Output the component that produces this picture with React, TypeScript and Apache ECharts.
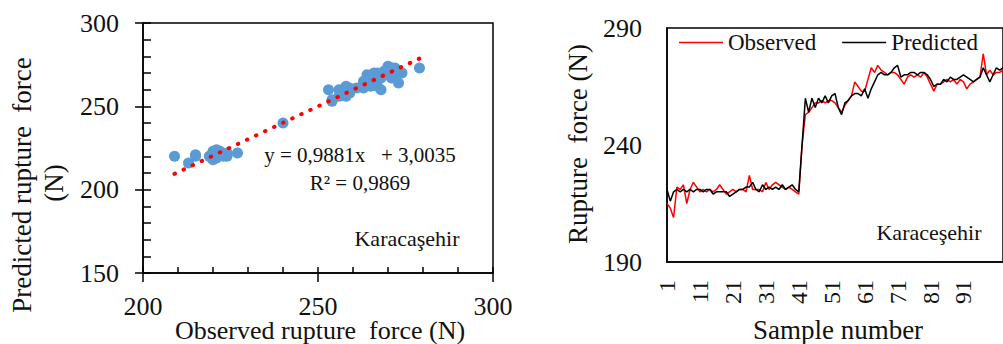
import { useEffect, useRef } from "react";
import * as echarts from "echarts";

// ---- Data ----
const sampleNumbers: string[] = Array.from({ length: 103 }, (_, i) => String(i + 1));

const observed: number[] = [
  215, 213, 209, 222, 221, 223, 215, 221, 224, 222,
  220, 221, 220, 221, 220, 221, 223, 221, 219, 220,
  221, 220, 221, 221, 220, 227, 221, 221, 221, 220,
  224, 221, 223, 224, 223, 222, 221, 222, 221, 220,
  219, 240, 253, 254, 256, 258, 258, 259, 258, 259,
  259, 258, 256, 254, 257, 259, 261, 267, 265, 263,
  263, 268, 273, 271, 274, 272, 271, 270, 271, 271,
  270, 268, 266, 269, 270, 269, 270, 269, 271, 269,
  266, 263, 266, 266, 267, 268, 267, 268, 266, 268,
  267, 264, 266, 267, 268, 269, 279, 270, 272, 270,
  271, 271, 272,
];

const predicted: number[] = [
  221, 216, 220, 221, 220, 221, 220, 221, 220, 221,
  221, 220, 221, 221, 219, 220, 220, 220, 220, 218,
  219, 220, 221, 221, 222, 222, 224, 221, 220, 223,
  221, 222, 221, 222, 221, 223, 221, 222, 223, 221,
  220, 240, 260, 254, 260, 256, 260, 258, 261, 258,
  261, 262, 256, 253, 258, 259, 261, 262, 262, 261,
  264, 260, 264, 267, 270, 271, 270, 270, 271, 273,
  274, 269, 270, 270, 271, 271, 270, 271, 271, 270,
  268, 265, 266, 266, 268, 267, 269, 268, 268, 269,
  270, 269, 268, 267, 268, 269, 273, 270, 267, 270,
  273, 272, 273,
];

const trendSlope = 0.9881;
const trendIntercept = 3.0035;
const equationText = "y = 0,9881x   + 3,0035";
const r2Text = "R² = 0,9869";
const siteLeft = "Karacaşehir";
const siteRight = "Karaceşehir";

const leftXTicks = { min: 200, max: 300, minor: 10, major: 50 };
const leftYTicks = { min: 150, max: 300, minor: 10, major: 50 };
const rightYTicks = { min: 190, max: 290, minor: 10, major: 50 };
const lastLabelledSample = 91;

const FONT = "Liberation Serif";
const INK = "#111";

export default function App() {
  const ref = useRef<HTMLDivElement>(null);

  useEffect(() => {
    if (!ref.current) return;
    const chart = echarts.init(ref.current, undefined, { renderer: "svg" });

    const scatterData = observed.map((o, i) => [o, predicted[i]]);
    const xMin = Math.min(...observed);
    const xMax = Math.max(...observed);
    const trendData = [
      [xMin, trendSlope * xMin + trendIntercept],
      [xMax, trendSlope * xMax + trendIntercept],
    ];

    const axisLine = { show: true, onZero: false, lineStyle: { color: "#000", width: 1.5 } };
    const tickLine = { color: "#000", width: 1.5 };
    const labelStyle = { fontFamily: FONT, fontSize: 26, color: INK };

    const text = (t: string, x: number, y: number, size: number, rotation = 0) => ({
      type: "text",
      x,
      y,
      rotation,
      silent: true,
      style: {
        text: t,
        fill: INK,
        font: `${size}px "${FONT}"`,
        textAlign: "center",
        textVerticalAlign: "middle",
        align: "center",
        verticalAlign: "middle",
      },
    });

    chart.setOption({
      animation: false,
      backgroundColor: "#fff",
      textStyle: { fontFamily: FONT },
      grid: [
        { left: 143, top: 23, width: 350, height: 250, show: true, borderColor: "#000", borderWidth: 1.5 },
        { left: 667, top: 28, width: 338, height: 234, show: true, borderColor: "#000", borderWidth: 1.5 },
      ],
      xAxis: [
        {
          gridIndex: 0, type: "value", position: "bottom",
          min: leftXTicks.min, max: leftXTicks.max, interval: leftXTicks.minor,
          axisLine, axisTick: { inside: true, length: 6, lineStyle: tickLine },
          axisLabel: { show: false }, splitLine: { show: false },
        },
        {
          gridIndex: 0, type: "value", position: "bottom",
          min: leftXTicks.min, max: leftXTicks.max, interval: leftXTicks.major,
          axisLine: { show: false }, axisTick: { inside: false, length: 9, lineStyle: tickLine },
          axisLabel: { ...labelStyle, margin: 20 }, splitLine: { show: false },
        },
        {
          gridIndex: 1, type: "category", data: sampleNumbers, boundaryGap: false,
          axisLine, axisTick: { show: false },
          axisLabel: {
            interval: (idx: number) => idx % 10 === 0 && idx < lastLabelledSample,
            rotate: 90, margin: 18, fontFamily: FONT, fontSize: 24, color: INK,
          },
          splitLine: { show: false },
        },
      ],
      yAxis: [
        {
          gridIndex: 0, type: "value", position: "left",
          min: leftYTicks.min, max: leftYTicks.max, interval: leftYTicks.minor,
          axisLine, axisTick: { inside: true, length: 8, lineStyle: tickLine },
          axisLabel: { show: false }, splitLine: { show: false },
        },
        {
          gridIndex: 0, type: "value", position: "left",
          min: leftYTicks.min, max: leftYTicks.max, interval: leftYTicks.major,
          axisLine: { show: false }, axisTick: { inside: false, length: 8, lineStyle: tickLine },
          axisLabel: { ...labelStyle, margin: 24 }, splitLine: { show: false },
        },
        {
          gridIndex: 1, type: "value", position: "left",
          min: rightYTicks.min, max: rightYTicks.max, interval: rightYTicks.minor,
          axisLine, axisTick: { inside: false, length: 9, lineStyle: tickLine },
          axisLabel: {
            ...labelStyle, margin: 25,
            formatter: (v: number) => ((v - rightYTicks.min) % rightYTicks.major === 0 ? String(v) : ""),
          },
          splitLine: { show: false },
        },
      ],
      legend: {
        data: [
          { name: "Observed", icon: "rect" },
          { name: "Predicted", icon: "rect" },
        ],
        left: 679, top: 31, padding: 0,
        itemWidth: 44, itemHeight: 1.6, itemGap: 26,
        textStyle: { fontFamily: FONT, fontSize: 23, color: INK },
      },
      series: [
        {
          name: "Measured points", type: "scatter", xAxisIndex: 0, yAxisIndex: 0,
          data: scatterData, symbolSize: 11,
          itemStyle: { color: "#5B9BD5", opacity: 1 }, z: 2,
        },
        {
          name: "Trend", type: "line", xAxisIndex: 0, yAxisIndex: 0,
          data: trendData, symbol: "none",
          lineStyle: { color: "#FF0000", width: 4, type: [0.5, 9.5], cap: "round" }, z: 3,
        },
        {
          name: "Observed", type: "line", xAxisIndex: 2, yAxisIndex: 2,
          data: observed, symbol: "none",
          lineStyle: { color: "#FF0000", width: 1.5 }, itemStyle: { color: "#FF0000" },
        },
        {
          name: "Predicted", type: "line", xAxisIndex: 2, yAxisIndex: 2,
          data: predicted, symbol: "none",
          lineStyle: { color: "#000", width: 1.5 }, itemStyle: { color: "#000" },
        },
      ],
      graphic: [
        text("Predicted rupture  force", 22, 185, 27, Math.PI / 2),
        text("(N)", 54, 183, 27, Math.PI / 2),
        text("Observed rupture  force (N)", 320, 330, 26),
        text(equationText, 360, 155, 21),
        text(r2Text, 360, 183, 21),
        text(siteLeft, 407, 238, 22),
        text("Rupture  force (N)", 578, 144, 27, Math.PI / 2),
        text("Sample number", 838, 330, 27),
        text(siteRight, 929, 232, 22),
      ],
    });

    return () => chart.dispose();
  }, []);

  return (
    <div
      ref={ref}
      style={{ position: "fixed", left: 0, top: 0, width: 1003, height: 344, background: "#fff" }}
    />
  );
}
